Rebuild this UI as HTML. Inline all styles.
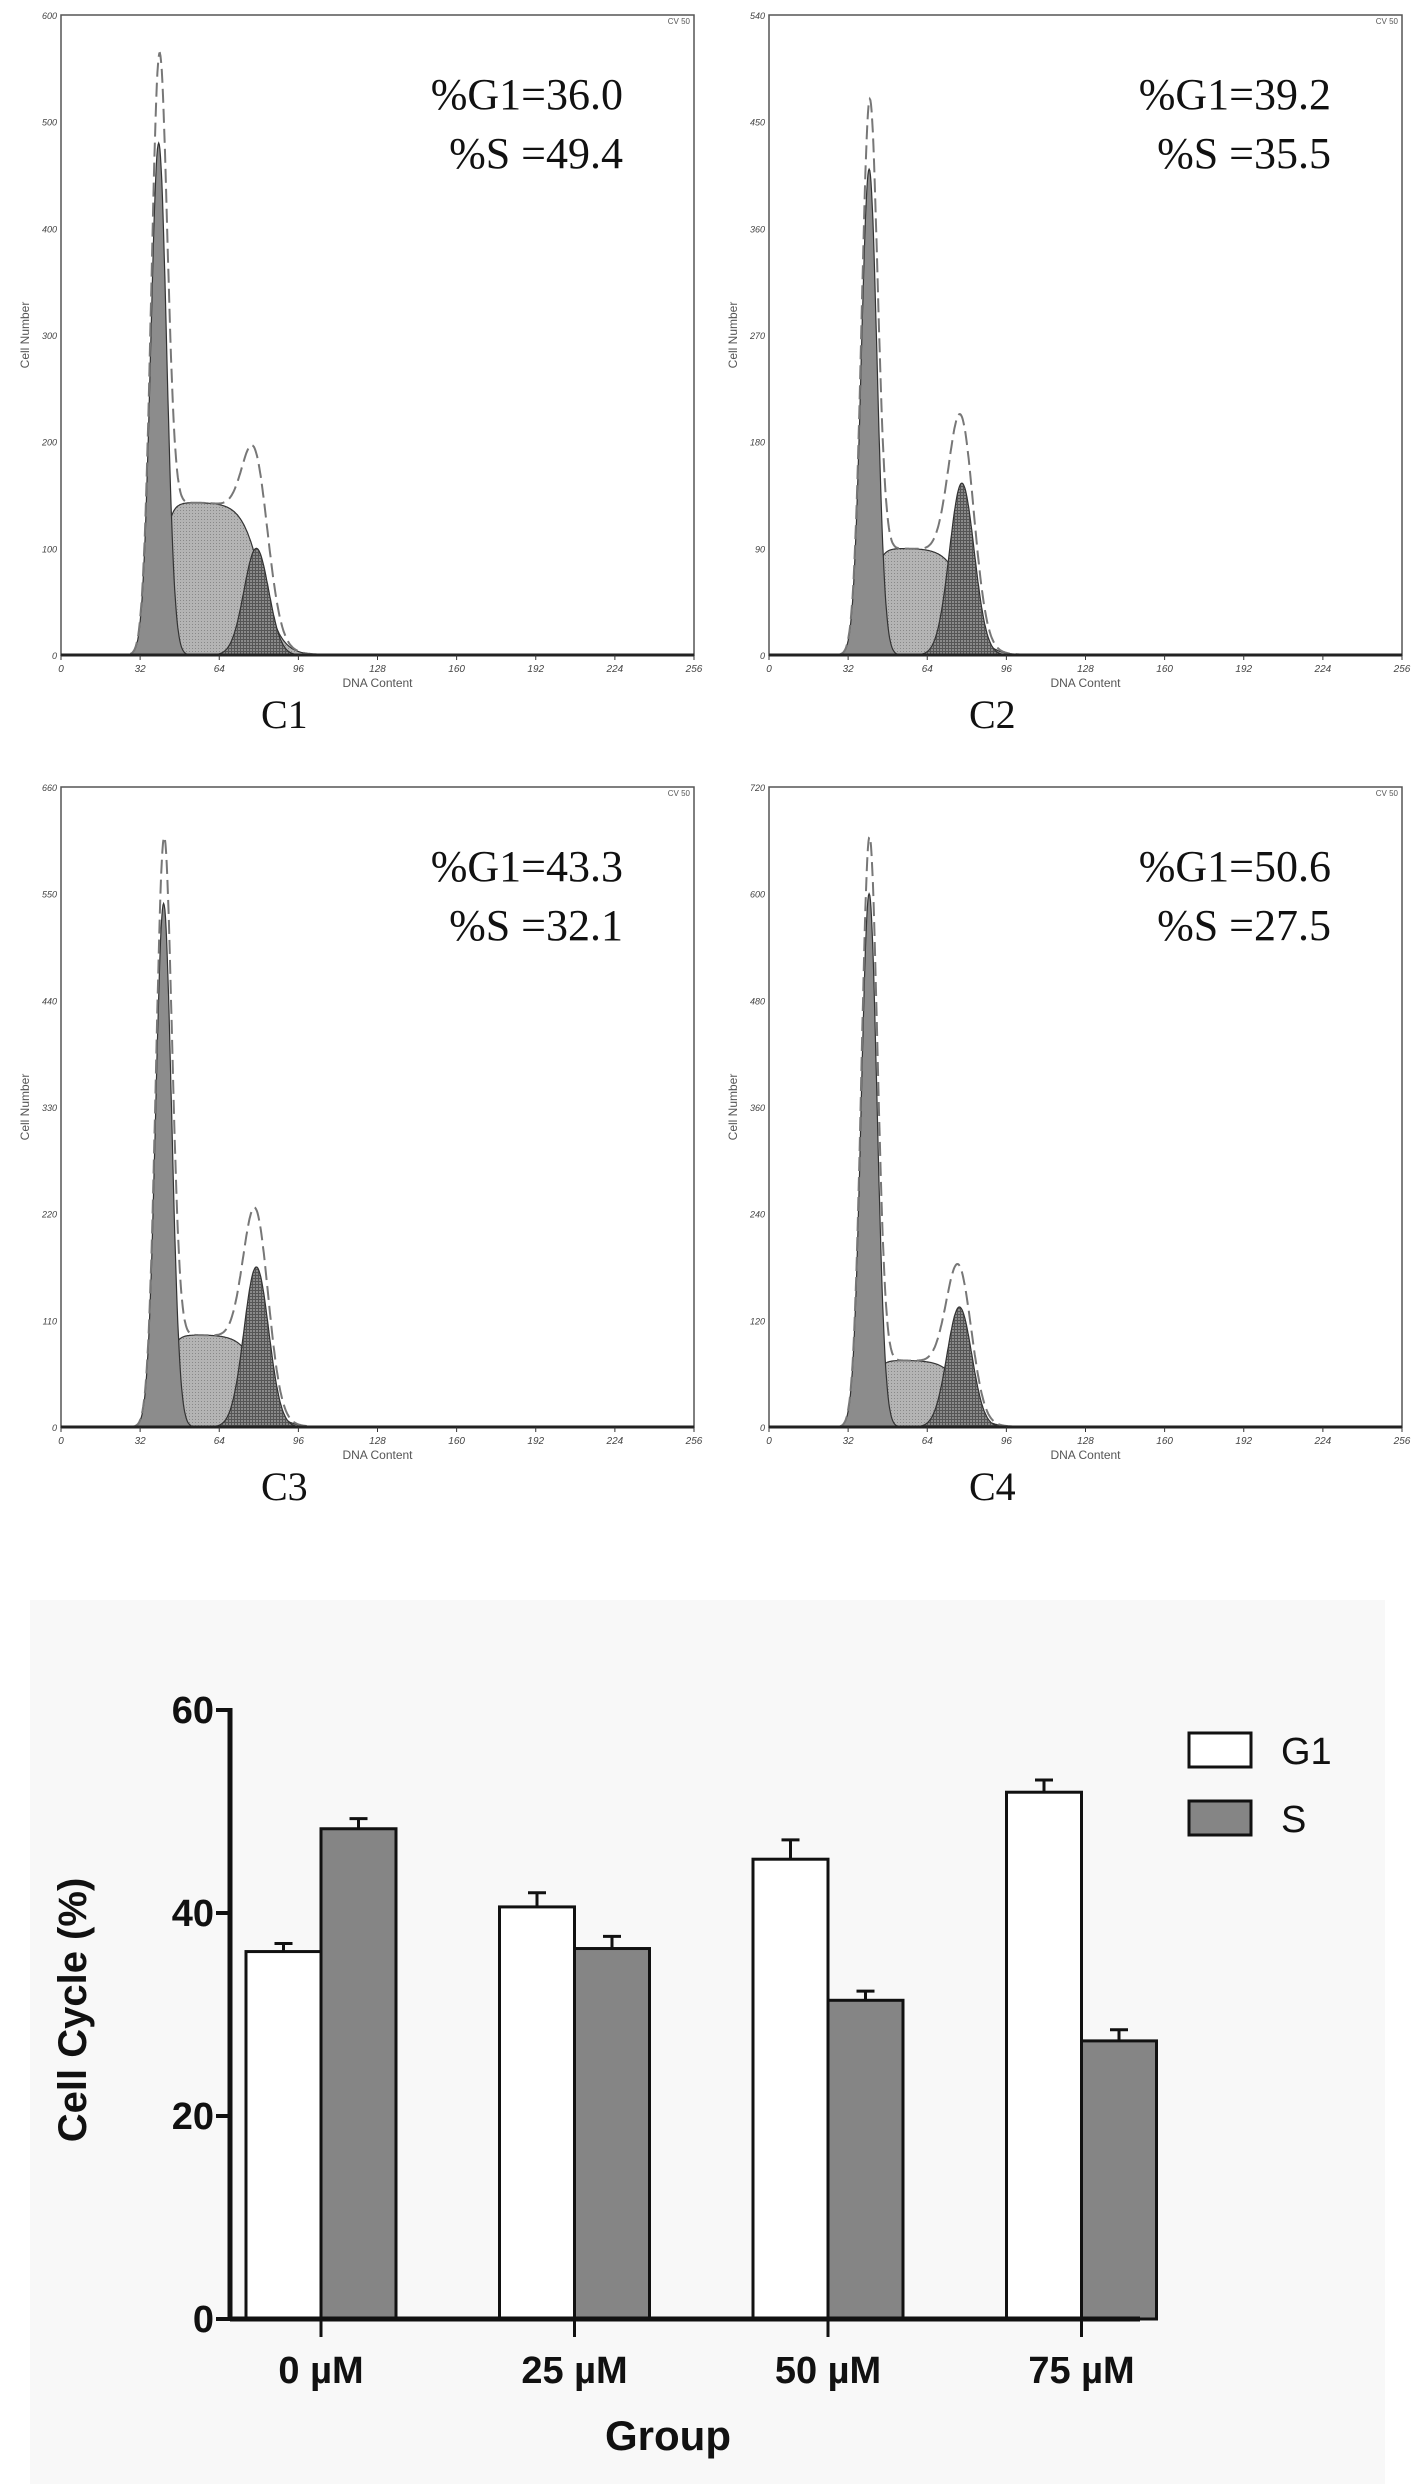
<!DOCTYPE html>
<html><head><meta charset="utf-8"><style>
html,body{margin:0;padding:0;background:#fff;}
svg{display:block;}
</style></head><body>
<svg id="root" width="1417" height="2484" xmlns="http://www.w3.org/2000/svg">
<defs>
<pattern id="dots" width="3" height="3" patternUnits="userSpaceOnUse"><rect width="3" height="3" fill="#b4b4b4"/><rect width="1" height="1" fill="#888"/></pattern>
<pattern id="hatch" width="3" height="3" patternUnits="userSpaceOnUse"><rect width="3" height="3" fill="#8a8a8a"/><rect width="1" height="3" fill="#555"/><rect width="3" height="1" fill="#555"/></pattern>
</defs>
<rect x="30" y="1600" width="1355" height="884" fill="#f8f8f8"/>
<g id="hists"></g>
<g id="bars"></g>
</svg>
<script>
// ---- histogram panel data ----
const panelNames = ["C1","C2","C3","C4"];
const panelYMax = [600,540,660,720];
const g1Pos = [39.5,40.5,41.5,40.5];
const g1Height = [480,410,540,600];
const sPlateau = [143,90,95,75];
const g2Pos = [79,78,79,77];
const g2Height = [100,145,165,135];
const pctG1 = ["36.0","39.2","43.3","50.6"];
const pctS = ["49.4","35.5","32.1","27.5"];
const xTicks = [0,32,64,96,128,160,192,224,256];

const NS="http://www.w3.org/2000/svg";
function mk(tag,attrs,parent,text){const e=document.createElementNS(NS,tag);for(const k in attrs)e.setAttribute(k,attrs[k]);if(text!==undefined)e.textContent=text;parent.appendChild(e);return e;}
const hroot=document.getElementById('hists');
const frames=[[61,15],[769,15],[61,787],[769,787]];
const FW=633, FH=640;
function gauss(x,m,s){return Math.exp(-0.5*((x-m)/s)*((x-m)/s));}
function sig(z){return 1/(1+Math.exp(-z));}
for(let p=0;p<4;p++){
  const [fx,fy]=frames[p];
  const g=mk('g',{},hroot);
  
  
  const X=v=>fx+v/256*FW, Y=v=>fy+FH-v/panelYMax[p]*FH;
  const comp=(x)=>{
    const a=g1Height[p]*gauss(x,g1Pos[p],3.2);
    const s=sPlateau[p]*sig((x-(g1Pos[p]+1))/1.8)*sig(((g2Pos[p]+2)-x)/4);
    const c=g2Height[p]*gauss(x,g2Pos[p],5);
    return [a,s,c];
  };
  const xs=[];for(let x=20;x<=115;x+=0.25)xs.push(x);
  function area(idx,fill,name){
    let d='M'+X(xs[0])+','+Y(0);
    xs.forEach(x=>{d+=' L'+X(x).toFixed(1)+','+Y(comp(x)[idx]).toFixed(1);});
    d+=' L'+X(xs[xs.length-1])+','+Y(0)+' Z';
    const e=mk('path',{d:d,fill:fill,stroke:'#333','stroke-width':1.2},g);
    
    
  }
  area(1,'url(#dots)','s-phase-area');
  area(2,'url(#hatch)','g2-peak-area');
  area(0,'#8c8c8c','g1-peak-area');
  let d='';
  xs.forEach((x,i)=>{const c=comp(x);d+=(i?' L':'M')+X(x).toFixed(1)+','+Y(c[0]*1.06+c[1]+c[2]).toFixed(1);});
  const dl=mk('path',{d:d,fill:'none',stroke:'#777','stroke-width':2,'stroke-dasharray':'14,6'},g);
  
  
  const fr=mk('rect',{x:fx,y:fy,width:FW,height:FH,fill:'none',stroke:'#555','stroke-width':1.5},g);
  
  
  mk('line',{x1:fx,y1:fy+FH,x2:fx+FW,y2:fy+FH,stroke:'#222','stroke-width':3},g);
  xTicks.forEach(t=>{
    mk('line',{x1:X(t),y1:fy+FH,x2:X(t),y2:fy+FH+5,stroke:'#333'},g);
    const tl=mk('text',{x:X(t),y:fy+FH+17,'font-size':10,'font-style':'italic','text-anchor':'middle',fill:'#444','font-family':'Liberation Sans, sans-serif'},g,String(t));
    
    
  });
  for(let k=0;k<=6;k++){
    const v=panelYMax[p]/6*k;
    const tl=mk('text',{x:fx-4,y:Y(v)+4,'font-size':9,'font-style':'italic','text-anchor':'end',fill:'#444','font-family':'Liberation Sans, sans-serif'},g,String(v));
    
    
  }
  const xt=mk('text',{x:fx+FW/2,y:fy+FH+32,'font-size':12,'text-anchor':'middle',fill:'#555','font-family':'Liberation Sans, sans-serif'},g,'DNA Content');
  
  
  const yt=mk('text',{x:0,y:0,'font-size':12,'text-anchor':'middle',fill:'#555','font-family':'Liberation Sans, sans-serif',transform:`translate(${fx-32},${fy+FH/2}) rotate(-90)`},g,'Cell Number');
  
  
  const cv=mk('text',{x:fx+FW-4,y:fy+9,'font-size':8,'text-anchor':'end',fill:'#555','font-family':'Liberation Sans, sans-serif'},g,'CV 50');
  
  
  const a1=mk('text',{x:fx+562,y:fy+94,'font-size':44,'text-anchor':'end',fill:'#111','font-family':'Liberation Serif, serif'},g,'%G1='+pctG1[p]);
  
  
  const a2=mk('text',{x:fx+562,y:fy+153,'font-size':44,'text-anchor':'end',fill:'#111','font-family':'Liberation Serif, serif'},g,'%S ='+pctS[p]);
  
  
  const cl=mk('text',{x:fx+200,y:fy+FH+73,'font-size':40,fill:'#111','font-family':'Liberation Serif, serif'},g,panelNames[p]);
  
  
}

// ---- bar chart data ----
const groups = ["0 µM","25 µM","50 µM","75 µM"];
const g1Vals = [36.2,40.6,45.3,51.9];
const g1Err = [0.8,1.4,1.9,1.2];
const sVals = [48.3,36.5,31.4,27.4];
const sErr = [1.0,1.2,0.9,1.1];
const yTicksBar = [0,20,40,60];

const b=document.getElementById('bars');
const AX=230, Y0=2319, Y60=1710, XEND=1140;
const yS=v=>Y0-(v/60)*(Y0-Y60);
const gx=i=>321+i*253.5;
const BW=75;
function bar(x,v,e,fill,name){
  const r=mk('rect',{x:x,y:yS(v),width:BW,height:Y0-yS(v),fill:fill,stroke:'#111','stroke-width':3},b);
  
  
  const cx=x+BW/2;
  const el=mk('path',{d:`M${cx},${yS(v)} V${yS(v+e)} M${cx-9},${yS(v+e)} H${cx+9}`,stroke:'#111','stroke-width':3,fill:'none'},b);
  
  
}
groups.forEach((gname,i)=>{
  bar(gx(i)-BW,g1Vals[i],g1Err[i],'#fff','bar-g1-'+i);
  bar(gx(i),sVals[i],sErr[i],'#858585','bar-s-'+i);
  mk('line',{x1:gx(i),y1:Y0,x2:gx(i),y2:Y0+18,stroke:'#111','stroke-width':3},b);
  const t=mk('text',{x:gx(i),y:2383,'font-size':38,'font-weight':'bold','text-anchor':'middle',fill:'#111','font-family':'Liberation Sans, sans-serif'},b,gname);
  
  
});
mk('line',{x1:AX,y1:Y60-2,x2:AX,y2:Y0+2,stroke:'#111','stroke-width':5},b);
mk('line',{x1:AX,y1:Y0,x2:XEND,y2:Y0,stroke:'#111','stroke-width':5},b);
yTicksBar.forEach(v=>{
  mk('line',{x1:AX-14,y1:yS(v),x2:AX,y2:yS(v),stroke:'#111','stroke-width':4},b);
  const t=mk('text',{x:AX-16,y:yS(v)+13,'font-size':38,'font-weight':'bold','text-anchor':'end',fill:'#111','font-family':'Liberation Sans, sans-serif'},b,String(v));
  
  
});
const yt=mk('text',{x:0,y:0,'font-size':40,'font-weight':'bold','text-anchor':'middle',fill:'#111','font-family':'Liberation Sans, sans-serif',transform:'translate(86,2010) rotate(-90)'},b,'Cell Cycle (%)');


const xt=mk('text',{x:668,y:2450,'font-size':42,'font-weight':'bold','text-anchor':'middle',fill:'#111','font-family':'Liberation Sans, sans-serif'},b,'Group');


const l1=mk('rect',{x:1189,y:1733,width:62,height:34,fill:'#fff',stroke:'#111','stroke-width':3},b);


const l2=mk('rect',{x:1189,y:1801,width:62,height:34,fill:'#858585',stroke:'#111','stroke-width':3},b);


const lt1=mk('text',{x:1281,y:1764,'font-size':38,fill:'#111','font-family':'Liberation Sans, sans-serif'},b,'G1');


const lt2=mk('text',{x:1281,y:1832,'font-size':38,fill:'#111','font-family':'Liberation Sans, sans-serif'},b,'S');


</script>
</body></html>
